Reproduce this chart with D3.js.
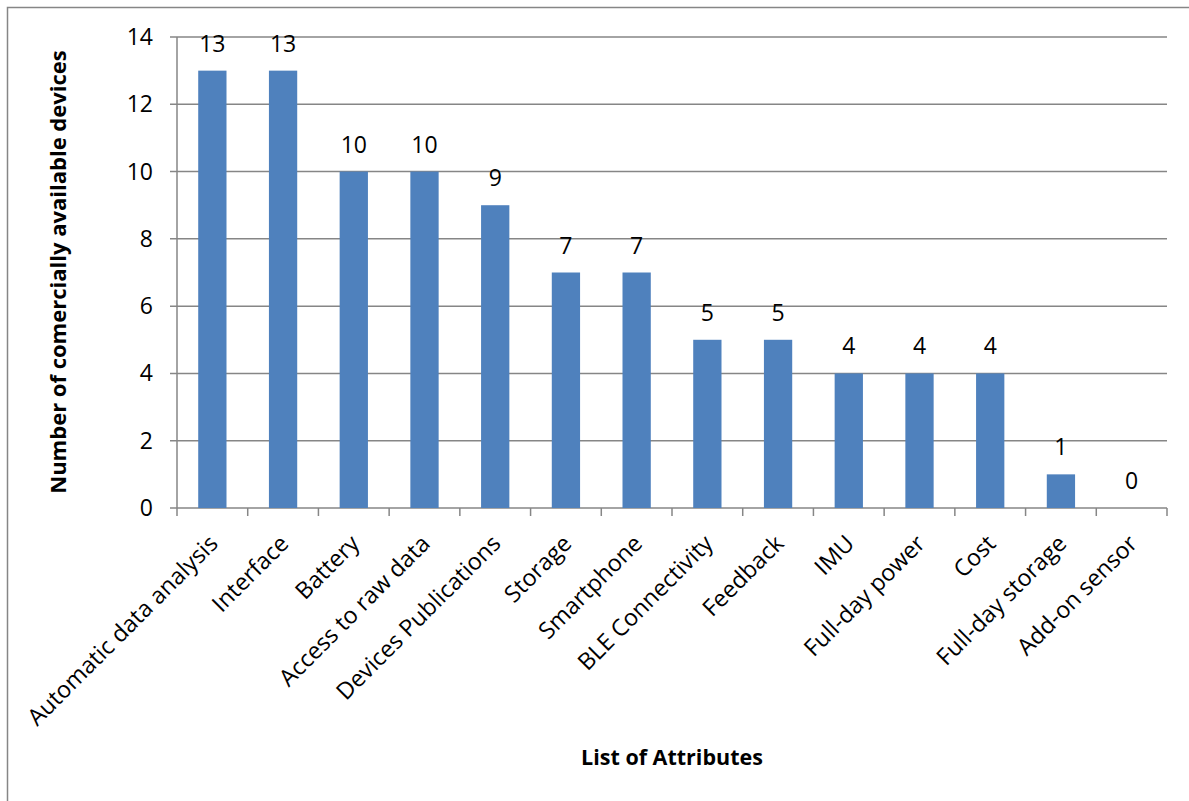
<!DOCTYPE html>
<html><head><meta charset="utf-8">
<script src="https://cdn.jsdelivr.net/npm/d3@7"></script>
<style>body{margin:0;background:#fff}svg{display:block}text{font-family:"Open Sans",sans-serif;fill:#000}</style>
</head><body>
<script>
const categories = ["Automatic data analysis","Interface","Battery","Access to raw data","Devices Publications","Storage","Smartphone","BLE Connectivity","Feedback","IMU","Full-day power","Cost","Full-day storage","Add-on sensor"];
const values = [13,13,10,10,9,7,7,5,5,4,4,4,1,0];
const yTicks = [0,2,4,6,8,10,12,14];
const yTitle = "Number of comercially available devices";
const xTitle = "List of Attributes";

const W = 1189, H = 801;
const svg = d3.select("body").append("svg").attr("width", W).attr("height", H);
svg.append("rect").attr("x",7.5).attr("y",7.5).attr("width",W).attr("height",H).attr("fill","none").attr("stroke","#868686").attr("stroke-width",1.5);

const m = {left:177, right:1167, top:37, bottom:508};
const x = d3.scaleBand().domain(categories).range([m.left,m.right]).paddingInner(0.6).paddingOuter(0.3);
const y = d3.scaleLinear().domain([0,14]).range([m.bottom,m.top]);

const g = svg.append("g");
g.selectAll("line.grid").data(yTicks).join("line")
  .attr("x1", m.left-7).attr("x2", m.right).attr("y1", d=>y(d)).attr("y2", d=>y(d))
  .attr("stroke","#868686").attr("stroke-width",1.5);
g.append("line").attr("x1",m.left).attr("x2",m.left).attr("y1",m.top).attr("y2",m.bottom).attr("stroke","#868686").attr("stroke-width",1.5);
g.selectAll("text.yt").data(yTicks).join("text")
  .attr("x", m.left-24).attr("y", d=>y(d)).attr("dy","0.35em").attr("text-anchor","end")
  .attr("font-size",23).text(d=>d);
const xTickPos = d3.range(categories.length+1).map(i=>m.left + i*(m.right-m.left)/categories.length);
g.selectAll("line.xt").data(xTickPos).join("line")
  .attr("x1",d=>d).attr("x2",d=>d).attr("y1",m.bottom).attr("y2",m.bottom+8)
  .attr("stroke","#868686").attr("stroke-width",1.5);

svg.selectAll("rect.bar").data(values).join("rect")
  .attr("x",(d,i)=>x(categories[i])).attr("width",x.bandwidth())
  .attr("y",d=>y(d)).attr("height",d=>y(0)-y(d)).attr("fill","#4F81BD");
svg.selectAll("text.vl").data(values).join("text")
  .attr("x",(d,i)=>x(categories[i])+x.bandwidth()/2).attr("y",d=>y(d)-19)
  .attr("text-anchor","middle").attr("font-size",23).text(d=>d);

svg.selectAll("text.xl").data(categories).join("text")
  .attr("text-anchor","end").attr("font-size",23.3)
  .attr("transform",d=>`translate(${x(d)+x.bandwidth()/2+7},${m.bottom+37}) rotate(-45)`)
  .text(d=>d);

svg.append("text").attr("transform",`translate(66,272) rotate(-90)`).attr("text-anchor","middle")
  .attr("font-size",22).attr("font-weight","bold").text(yTitle);
svg.append("text").attr("x",672).attr("y",765).attr("text-anchor","middle")
  .attr("font-size",21.5).attr("font-weight","bold").text(xTitle);
</script>
</body></html>
